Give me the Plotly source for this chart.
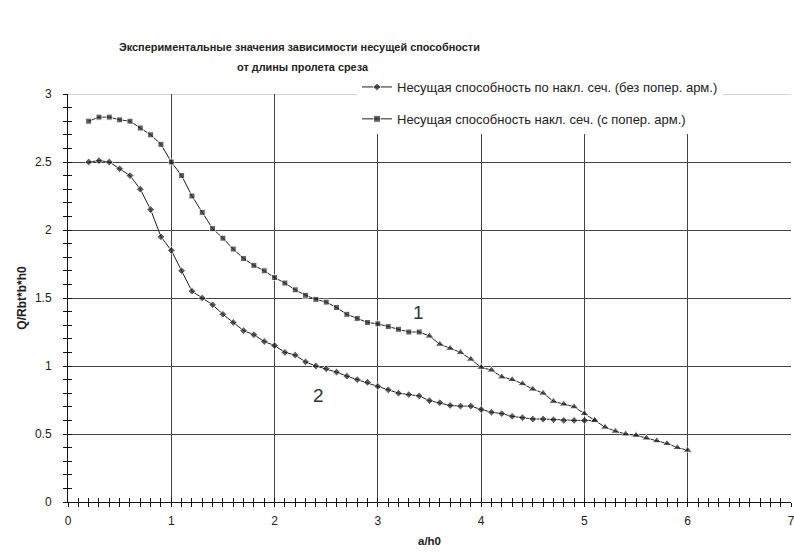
import plotly.graph_objects as go

# Series 2 (no transverse reinforcement): diamonds, joins common branch at 5.1
x_no_reinf = [0.2, 0.3, 0.4, 0.5, 0.6, 0.7, 0.8, 0.9, 1.0, 1.1, 1.2, 1.3, 1.4, 1.5, 1.6,
              1.7, 1.8, 1.9, 2.0, 2.1, 2.2, 2.3, 2.4, 2.5, 2.6, 2.7, 2.8, 2.9, 3.0, 3.1,
              3.2, 3.3, 3.4, 3.5, 3.6, 3.7, 3.8, 3.9, 4.0, 4.1, 4.2, 4.3, 4.4, 4.5, 4.6,
              4.7, 4.8, 4.9, 5.0, 5.1]
y_no_reinf = [2.50, 2.51, 2.50, 2.45, 2.40, 2.30, 2.15, 1.95, 1.85, 1.70, 1.55, 1.50, 1.45,
              1.38, 1.32, 1.26, 1.23, 1.18, 1.15, 1.10, 1.08, 1.03, 1.00, 0.98, 0.955, 0.925,
              0.90, 0.88, 0.85, 0.825, 0.80, 0.79, 0.78, 0.745, 0.73, 0.71, 0.705, 0.705,
              0.68, 0.66, 0.65, 0.63, 0.62, 0.61, 0.61, 0.605, 0.60, 0.60, 0.60, 0.60]

# Series 1 (with transverse reinforcement): squares part
x_reinf_sq = [0.2, 0.3, 0.4, 0.5, 0.6, 0.7, 0.8, 0.9, 1.0, 1.1, 1.2, 1.3, 1.4, 1.5, 1.6,
              1.7, 1.8, 1.9, 2.0, 2.1, 2.2, 2.3, 2.4, 2.5, 2.6, 2.7, 2.8, 2.9, 3.0, 3.1,
              3.2, 3.3, 3.4]
y_reinf_sq = [2.80, 2.83, 2.83, 2.81, 2.80, 2.75, 2.70, 2.63, 2.50, 2.40, 2.25, 2.13, 2.01,
              1.94, 1.86, 1.79, 1.74, 1.70, 1.65, 1.61, 1.56, 1.52, 1.49, 1.47, 1.43, 1.38,
              1.35, 1.32, 1.31, 1.29, 1.27, 1.25, 1.25]
# triangles part
x_reinf_tri = [3.5, 3.6, 3.7, 3.8, 3.9, 4.0, 4.1, 4.2, 4.3, 4.4, 4.5, 4.6, 4.7, 4.8, 4.9,
               5.0, 5.1, 5.2, 5.3, 5.4, 5.5, 5.6, 5.7, 5.8, 5.9, 6.0]
y_reinf_tri = [1.22, 1.16, 1.13, 1.10, 1.05, 0.99, 0.97, 0.92, 0.90, 0.87, 0.83, 0.80, 0.74,
               0.72, 0.70, 0.65, 0.60, 0.55, 0.52, 0.50, 0.49, 0.47, 0.45, 0.43, 0.40, 0.38]

name_no_reinf = "Несущая способность по накл. сеч. (без попер. арм.)"
name_reinf = "Несущая способность накл. сеч. (с попер. арм.)"
title_line1 = "Экспериментальные значения зависимости несущей способности"
title_line2 = "от длины пролета среза"
x_title = "a/h0"
y_title = "Q/Rbt*b*h0"
curve_labels = [("1", 3.39, 1.39), ("2", 2.43, 0.78)]

INK = "#1e1e1e"
FONT = "Liberation Sans, Arial, sans-serif"

fig = go.Figure()

sym_no = ["diamond"] * (len(x_no_reinf) - 1) + ["triangle-up"]
size_no = [6] * (len(x_no_reinf) - 1) + [8]
fig.add_trace(go.Scatter(
    x=x_no_reinf, y=y_no_reinf, mode="lines+markers", name=name_no_reinf,
    legendgroup="a",
    line=dict(color=INK, width=1),
    marker=dict(symbol=sym_no, size=size_no, color=INK),
))

x_reinf = x_reinf_sq + x_reinf_tri
y_reinf = y_reinf_sq + y_reinf_tri
sym_re = ["square"] * len(x_reinf_sq) + ["triangle-up"] * len(x_reinf_tri)
size_re = [6] * len(x_reinf_sq) + [8] * len(x_reinf_tri)
fig.add_trace(go.Scatter(
    x=x_reinf, y=y_reinf, mode="lines+markers", name=name_reinf,
    legendgroup="b",
    line=dict(color=INK, width=1),
    marker=dict(symbol=sym_re, size=size_re, color=INK),
))

# helper trace for overlay axes (cross ticks)
fig.add_trace(go.Scatter(x=[None], y=[None], xaxis="x2", yaxis="y2",
                         showlegend=False, hoverinfo="skip"))

for txt, xx, yy in curve_labels:
    fig.add_annotation(x=xx, y=yy, text=txt, showarrow=False,
                       font=dict(size=19, color="#333", family=FONT))

# title as two centred lines
fig.add_annotation(xref="paper", yref="paper", x=(299 - 68) / 723, y=(502 - 47) / 408,
                   text="<b>" + title_line1 + "</b>", showarrow=False,
                   xanchor="center", yanchor="middle",
                   font=dict(size=10.9, color="#222", family=FONT))
fig.add_annotation(xref="paper", yref="paper", x=(303 - 68) / 723, y=(502 - 67) / 408,
                   text="<b>" + title_line2 + "</b>", showarrow=False,
                   xanchor="center", yanchor="middle",
                   font=dict(size=10.9, color="#222", family=FONT))

# lighter top line at y=3
fig.add_shape(type="line", xref="x", yref="y", x0=0, x1=7, y0=3, y1=3,
              line=dict(color="#c8c8c8", width=1.5), layer="below")

axis_common = dict(showline=True, linecolor="#111", linewidth=1,
                   tickcolor="#111", ticklen=4, tickwidth=1,
                   tickfont=dict(size=12, color="#222", family=FONT),
                   zeroline=False, automargin=False)

fig.update_layout(
    width=794, height=558,
    margin=dict(l=68, r=3, t=94, b=56),
    paper_bgcolor="white", plot_bgcolor="white",
    font=dict(family=FONT, color="#222"),
    showlegend=True,
    legend=dict(x=(357 - 68) / 723, xanchor="left", y=(502 - 72) / 408, yanchor="top",
                bgcolor="white", borderwidth=0, tracegroupgap=12,
                font=dict(size=13, color="#222", family=FONT), itemwidth=30),
    xaxis=dict(range=[0, 7], dtick=1, tick0=0, ticks="outside",
               showgrid=True, gridcolor="#444", gridwidth=1, ticklabelstandoff=4,
               ticklabeloverflow="allow",
               minor=dict(dtick=0.1, ticks="outside", ticklen=4, tickcolor="#111", showgrid=False),
               title=dict(text="<b>" + x_title + "</b>", font=dict(size=11.5, family=FONT), standoff=9),
               **axis_common),
    yaxis=dict(range=[0, 3], dtick=0.5, tick0=0, ticks="outside",
               showgrid=True, gridcolor="#444", gridwidth=1, ticklabelstandoff=9,
               minor=dict(dtick=0.1, ticks="outside", ticklen=4, tickcolor="#111", showgrid=False),
               title=dict(text="<b>" + y_title + "</b>", font=dict(size=12, family=FONT), standoff=5),
               **axis_common),
    xaxis2=dict(range=[0, 7], overlaying="x", anchor="y2", dtick=1, tick0=0, ticks="inside",
                ticklen=4, tickcolor="#111", showticklabels=False, showgrid=False,
                zeroline=False, showline=False, automargin=False,
                minor=dict(dtick=0.1, ticks="inside", ticklen=4, tickcolor="#111", showgrid=False)),
    yaxis2=dict(range=[0, 3], overlaying="y", anchor="x2", dtick=0.5, tick0=0, ticks="inside",
                ticklen=4, tickcolor="#111", showticklabels=False, showgrid=False,
                zeroline=False, showline=False, automargin=False,
                minor=dict(dtick=0.1, ticks="inside", ticklen=4, tickcolor="#111", showgrid=False)),
)

fig.write_html("out.html", config={"displayModeBar": False},
               post_script="document.body.style.margin='0';")
